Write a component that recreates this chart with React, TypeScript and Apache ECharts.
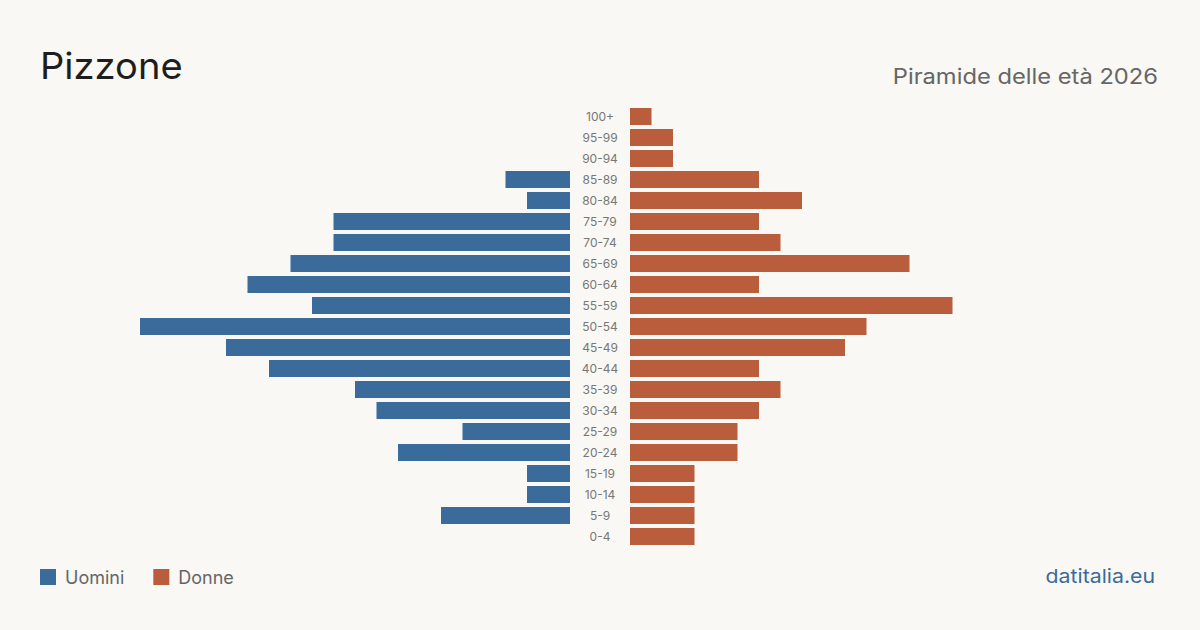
import React, { useEffect, useRef } from "react";
import * as echarts from "echarts";

const categories = ["0-4","5-9","10-14","15-19","20-24","25-29","30-34","35-39","40-44","45-49","50-54","55-59","60-64","65-69","70-74","75-79","80-84","85-89","90-94","95-99","100+"];
const men = [0,6,2,2,8,5,9,10,14,16,20,12,15,13,11,11,2,3,0,0,0];
const women = [3,3,3,3,5,5,6,7,6,10,11,15,6,13,7,6,8,6,2,2,1];

const BLUE = "#3b6b9b";
const ORANGE = "#b95d3d";
const FONT = "Inter, 'Noto Sans', sans-serif";

export default function App() {
  const ref = useRef<HTMLDivElement>(null);
  useEffect(() => {
    if (!ref.current) return;
    const chart = echarts.init(ref.current, null, { renderer: "svg" });
    chart.setOption({
      animation: false,
      backgroundColor: "#f9f8f4",
      textStyle: { fontFamily: FONT },
      grid: [
        { left: 140, width: 430, top: 106, height: 441 },
        { left: 630, width: 430, top: 106, height: 441 },
      ],
      xAxis: [
        { gridIndex: 0, type: "value", inverse: true, min: 0, max: 20, show: false },
        { gridIndex: 1, type: "value", min: 0, max: 20, show: false },
      ],
      yAxis: [
        {
          gridIndex: 0, type: "category", data: categories, position: "right",
          axisLine: { show: false }, axisTick: { show: false },
          axisLabel: { align: "center", margin: 30, color: "#777", fontSize: 12, fontFamily: FONT },
        },
        {
          gridIndex: 1, type: "category", data: categories, show: false,
        },
      ],
      legend: {
        left: 40, top: 568, padding: 0, itemWidth: 16, itemHeight: 16, itemGap: 29, icon: "rect",
        textStyle: { fontSize: 18, color: "#666", fontFamily: FONT, padding: [0, 0, 0, 4] },
        data: ["Uomini", "Donne"],
      },
      series: [
        { name: "Uomini", type: "bar", xAxisIndex: 0, yAxisIndex: 0, data: men, barWidth: 17, itemStyle: { color: BLUE } },
        { name: "Donne", type: "bar", xAxisIndex: 1, yAxisIndex: 1, data: women, barWidth: 17, itemStyle: { color: ORANGE } },
      ],
      graphic: [
        { type: "text", x: 40, y: 66, scaleX: 1.03, style: { text: "Pizzone", fontSize: 37, fill: "#1e1e1e", fontFamily: FONT, textAlign: "left", textVerticalAlign: "middle" } },
        { type: "text", x: 1158, y: 76, scaleX: 1.13, style: { text: "Piramide delle età 2026", fontSize: 21, fill: "#666", fontFamily: FONT, textAlign: "right", textVerticalAlign: "middle" } },
        { type: "text", x: 1155, y: 576, scaleX: 1.12, style: { text: "datitalia.eu", fontSize: 19, fill: BLUE, fontFamily: FONT, textAlign: "right", textVerticalAlign: "middle" } },
      ],
    });
    return () => chart.dispose();
  }, []);
  return <div ref={ref} style={{ position: "fixed", left: 0, top: 0, width: 1200, height: 630 }} />;
}
